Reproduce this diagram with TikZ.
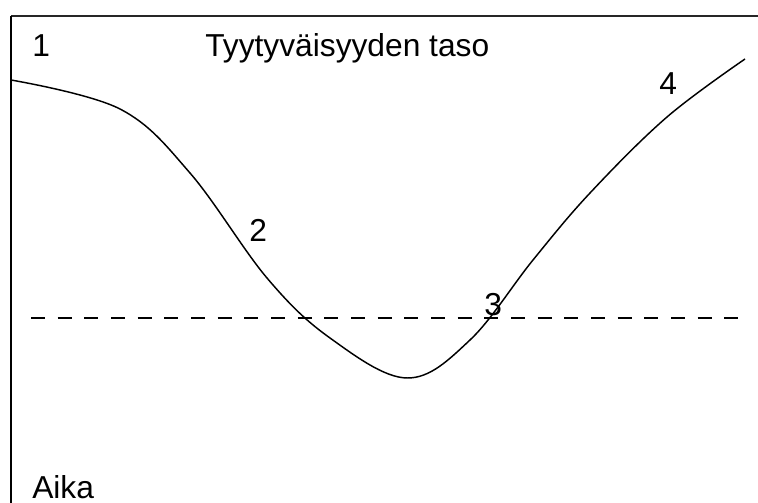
\documentclass[tikz,border=0pt]{standalone}
\usepackage{fontspec}
\setmainfont{Liberation Sans}
\begin{document}
\begin{tikzpicture}[x=0.75pt,y=-0.75pt,
  lbl/.style={inner sep=0pt,anchor=base west,font=\fontsize{23.8}{28}\selectfont},
  frame/.style={line width=1.5pt},
  curve/.style={line width=1.1pt},
  level/.style={line width=1.1pt,dash pattern=on 10.5pt off 9.5pt}]
\useasboundingbox (0,0) rectangle (758,503);
\coordinate (tl) at (11,16);
\coordinate (tr) at (758,16);
\coordinate (bl) at (11,503);
\draw[frame,black!85] (tl) -- (tr);
\draw[frame] (tl) -- (bl);
\coordinate (d1) at (31,318);
\coordinate (d2) at (738,318);
\draw[level] (d1) -- (d2);
\draw[curve] plot[smooth,tension=0.6] coordinates {(11,80) (120,109) (190,173) (267,278) (330,338) (407,378) (470,340) (533,260) (590,193) (667,117) (745,59)};
\node[lbl] (n1) at (32,57) {1};
\node[lbl] (title) at (205,57) {Tyytyväisyyden taso};
\node[lbl] (n2) at (249,242) {2};
\node[lbl] (n3) at (484,315) {3};
\node[lbl] (n4) at (659,95) {4};
\node[lbl] (aika) at (32,498) {Aika};
\end{tikzpicture}
\end{document}
